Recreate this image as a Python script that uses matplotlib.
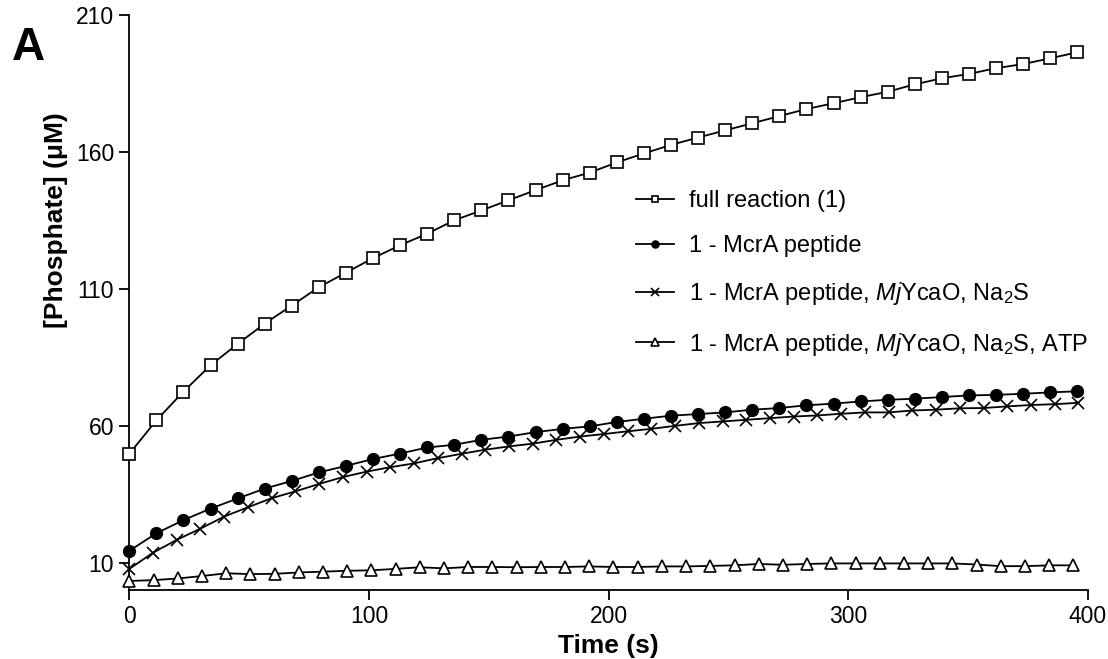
import matplotlib
matplotlib.use("Agg")
import matplotlib.pyplot as plt

plt.rcParams['font.family'] = ['Liberation Sans', 'DejaVu Sans']
plt.rcParams['mathtext.fontset'] = 'custom'
plt.rcParams['mathtext.rm'] = 'Liberation Sans'
plt.rcParams['mathtext.it'] = 'Liberation Sans:italic'

# time points (s) for each trace
t_full = [0, 11.3, 22.6, 33.9, 45.2, 56.5, 67.8, 79.1, 90.4, 101.7, 113.0, 124.3,
          135.6, 146.9, 158.2, 169.5, 180.8, 192.1, 203.4, 214.7, 226.0, 237.3,
          248.6, 259.9, 271.2, 282.5, 293.8, 305.1, 316.4, 327.7, 339.0, 350.3,
          361.6, 372.9, 384.2, 395.5]
t_pep = t_full
t_ycao = [0, 9.9, 19.8, 29.7, 39.6, 49.5, 59.4, 69.3, 79.2, 89.1, 99.0, 108.9,
          118.8, 128.7, 138.6, 148.5, 158.4, 168.3, 178.2, 188.1, 198.0, 207.9,
          217.8, 227.7, 237.6, 247.5, 257.4, 267.3, 277.2, 287.1, 297.0, 306.9,
          316.8, 326.7, 336.6, 346.5, 356.4, 366.3, 376.2, 386.1, 396.0]
t_atp = [0, 10.1, 20.2, 30.3, 40.4, 50.5, 60.6, 70.7, 80.8, 90.9, 101.0, 111.1,
         121.2, 131.3, 141.4, 151.5, 161.6, 171.7, 181.8, 191.9, 202.0, 212.1,
         222.2, 232.3, 242.4, 252.5, 262.6, 272.7, 282.8, 292.9, 303.0, 313.1,
         323.2, 333.3, 343.4, 353.5, 363.6, 373.7, 383.8, 393.9]

# phosphate (uM)
full_rxn = [50.0, 62.2, 72.7, 82.3, 90.1, 97.5, 104.1, 110.8, 116.1, 121.4, 126.1,
            130.3, 135.2, 138.8, 142.5, 146.2, 149.8, 152.6, 156.3, 159.6, 162.7,
            165.4, 168.0, 170.6, 173.2, 175.8, 177.9, 180.1, 182.1, 184.8, 187.0,
            188.6, 190.7, 192.2, 194.3, 196.5]
minus_pep = [14.6, 21.0, 25.8, 30.0, 33.7, 37.3, 40.1, 43.2, 45.6, 48.1, 50.1,
             52.3, 53.3, 55.1, 56.3, 57.9, 59.1, 60.0, 61.6, 62.8, 63.9, 64.5,
             65.1, 66.1, 66.7, 67.7, 68.3, 69.1, 69.7, 70.1, 70.7, 71.3, 71.5,
             71.9, 72.4, 72.8]
minus_ycao = [8.0, 13.9, 18.6, 22.7, 27.1, 30.5, 33.8, 36.3, 39.0, 41.5, 43.5,
              45.1, 46.5, 48.4, 50.0, 51.5, 52.7, 53.7, 55.1, 56.3, 57.2, 58.2,
              59.1, 60.2, 61.2, 61.8, 62.4, 63.0, 63.6, 64.0, 64.6, 65.1, 65.1,
              65.8, 66.1, 66.6, 66.7, 67.3, 67.8, 68.1, 68.6]
minus_atp = [3.6, 3.9, 4.5, 5.4, 6.4, 6.1, 6.2, 6.7, 7.0, 7.3, 7.5, 8.0, 8.6, 8.2,
             8.7, 8.7, 8.6, 8.7, 8.7, 8.9, 8.7, 8.7, 8.9, 8.9, 9.1, 9.3, 9.8, 9.5,
             9.8, 10.0, 10.0, 10.0, 10.0, 10.0, 10.0, 9.6, 9.0, 9.0, 9.3, 9.3]

labels = ["full reaction (1)",
          "1 - McrA peptide",
          r"1 - McrA peptide, $\it{Mj}$YcaO, Na$_\mathrm{2}$S",
          r"1 - McrA peptide, $\it{Mj}$YcaO, Na$_\mathrm{2}$S, ATP"]

fig = plt.figure(figsize=(11.08, 6.59), dpi=100)
ax = fig.add_axes([0.1167, 0.1047, 0.8653, 0.8721])

lw = 1.3
ax.plot(t_full, full_rxn, color='black', lw=lw, marker='s', ms=8,
        mfc='white', mec='black', mew=1.2, label=labels[0], clip_on=False, zorder=3)
ax.plot(t_pep, minus_pep, color='black', lw=lw, marker='o', ms=8.5,
        mfc='black', mec='black', label=labels[1], clip_on=False, zorder=3)
ax.plot(t_ycao, minus_ycao, color='black', lw=lw, marker='x', ms=9,
        mew=1.2, label=labels[2], clip_on=False, zorder=3)
ax.plot(t_atp, minus_atp, color='black', lw=lw, marker='^', ms=8.5,
        mfc='white', mec='black', mew=1.2, label=labels[3], clip_on=False, zorder=3)

ax.set_xlim(0, 400)
ax.set_ylim(0.3, 210)
ax.set_xticks([0, 100, 200, 300, 400])
ax.set_yticks([10, 60, 110, 160, 210])
for s in ['top', 'right']:
    ax.spines[s].set_visible(False)
for s in ['left', 'bottom']:
    ax.spines[s].set_linewidth(1.3)
ax.tick_params(direction='out', length=7, width=1.3, labelsize=16.5, pad=4)

ax.set_xlabel("Time (s)", fontsize=19, fontweight='bold', labelpad=4)
ax.set_ylabel("[Phosphate] (\u03bcM)", fontsize=19, fontweight='bold')
ax.yaxis.set_label_coords(-0.064, 0.644)

ax.legend(loc='center left', bbox_to_anchor=(0.5285, 0.55), frameon=False,
          fontsize=17, handlelength=1.6, handletextpad=0.64, labelspacing=0.98,
          borderpad=0, borderaxespad=0, markerscale=0.6)

fig.text(0.011, 0.909, "A", fontsize=33, fontweight='bold', ha='left', va='baseline')

fig.savefig("out.png", dpi=100)
